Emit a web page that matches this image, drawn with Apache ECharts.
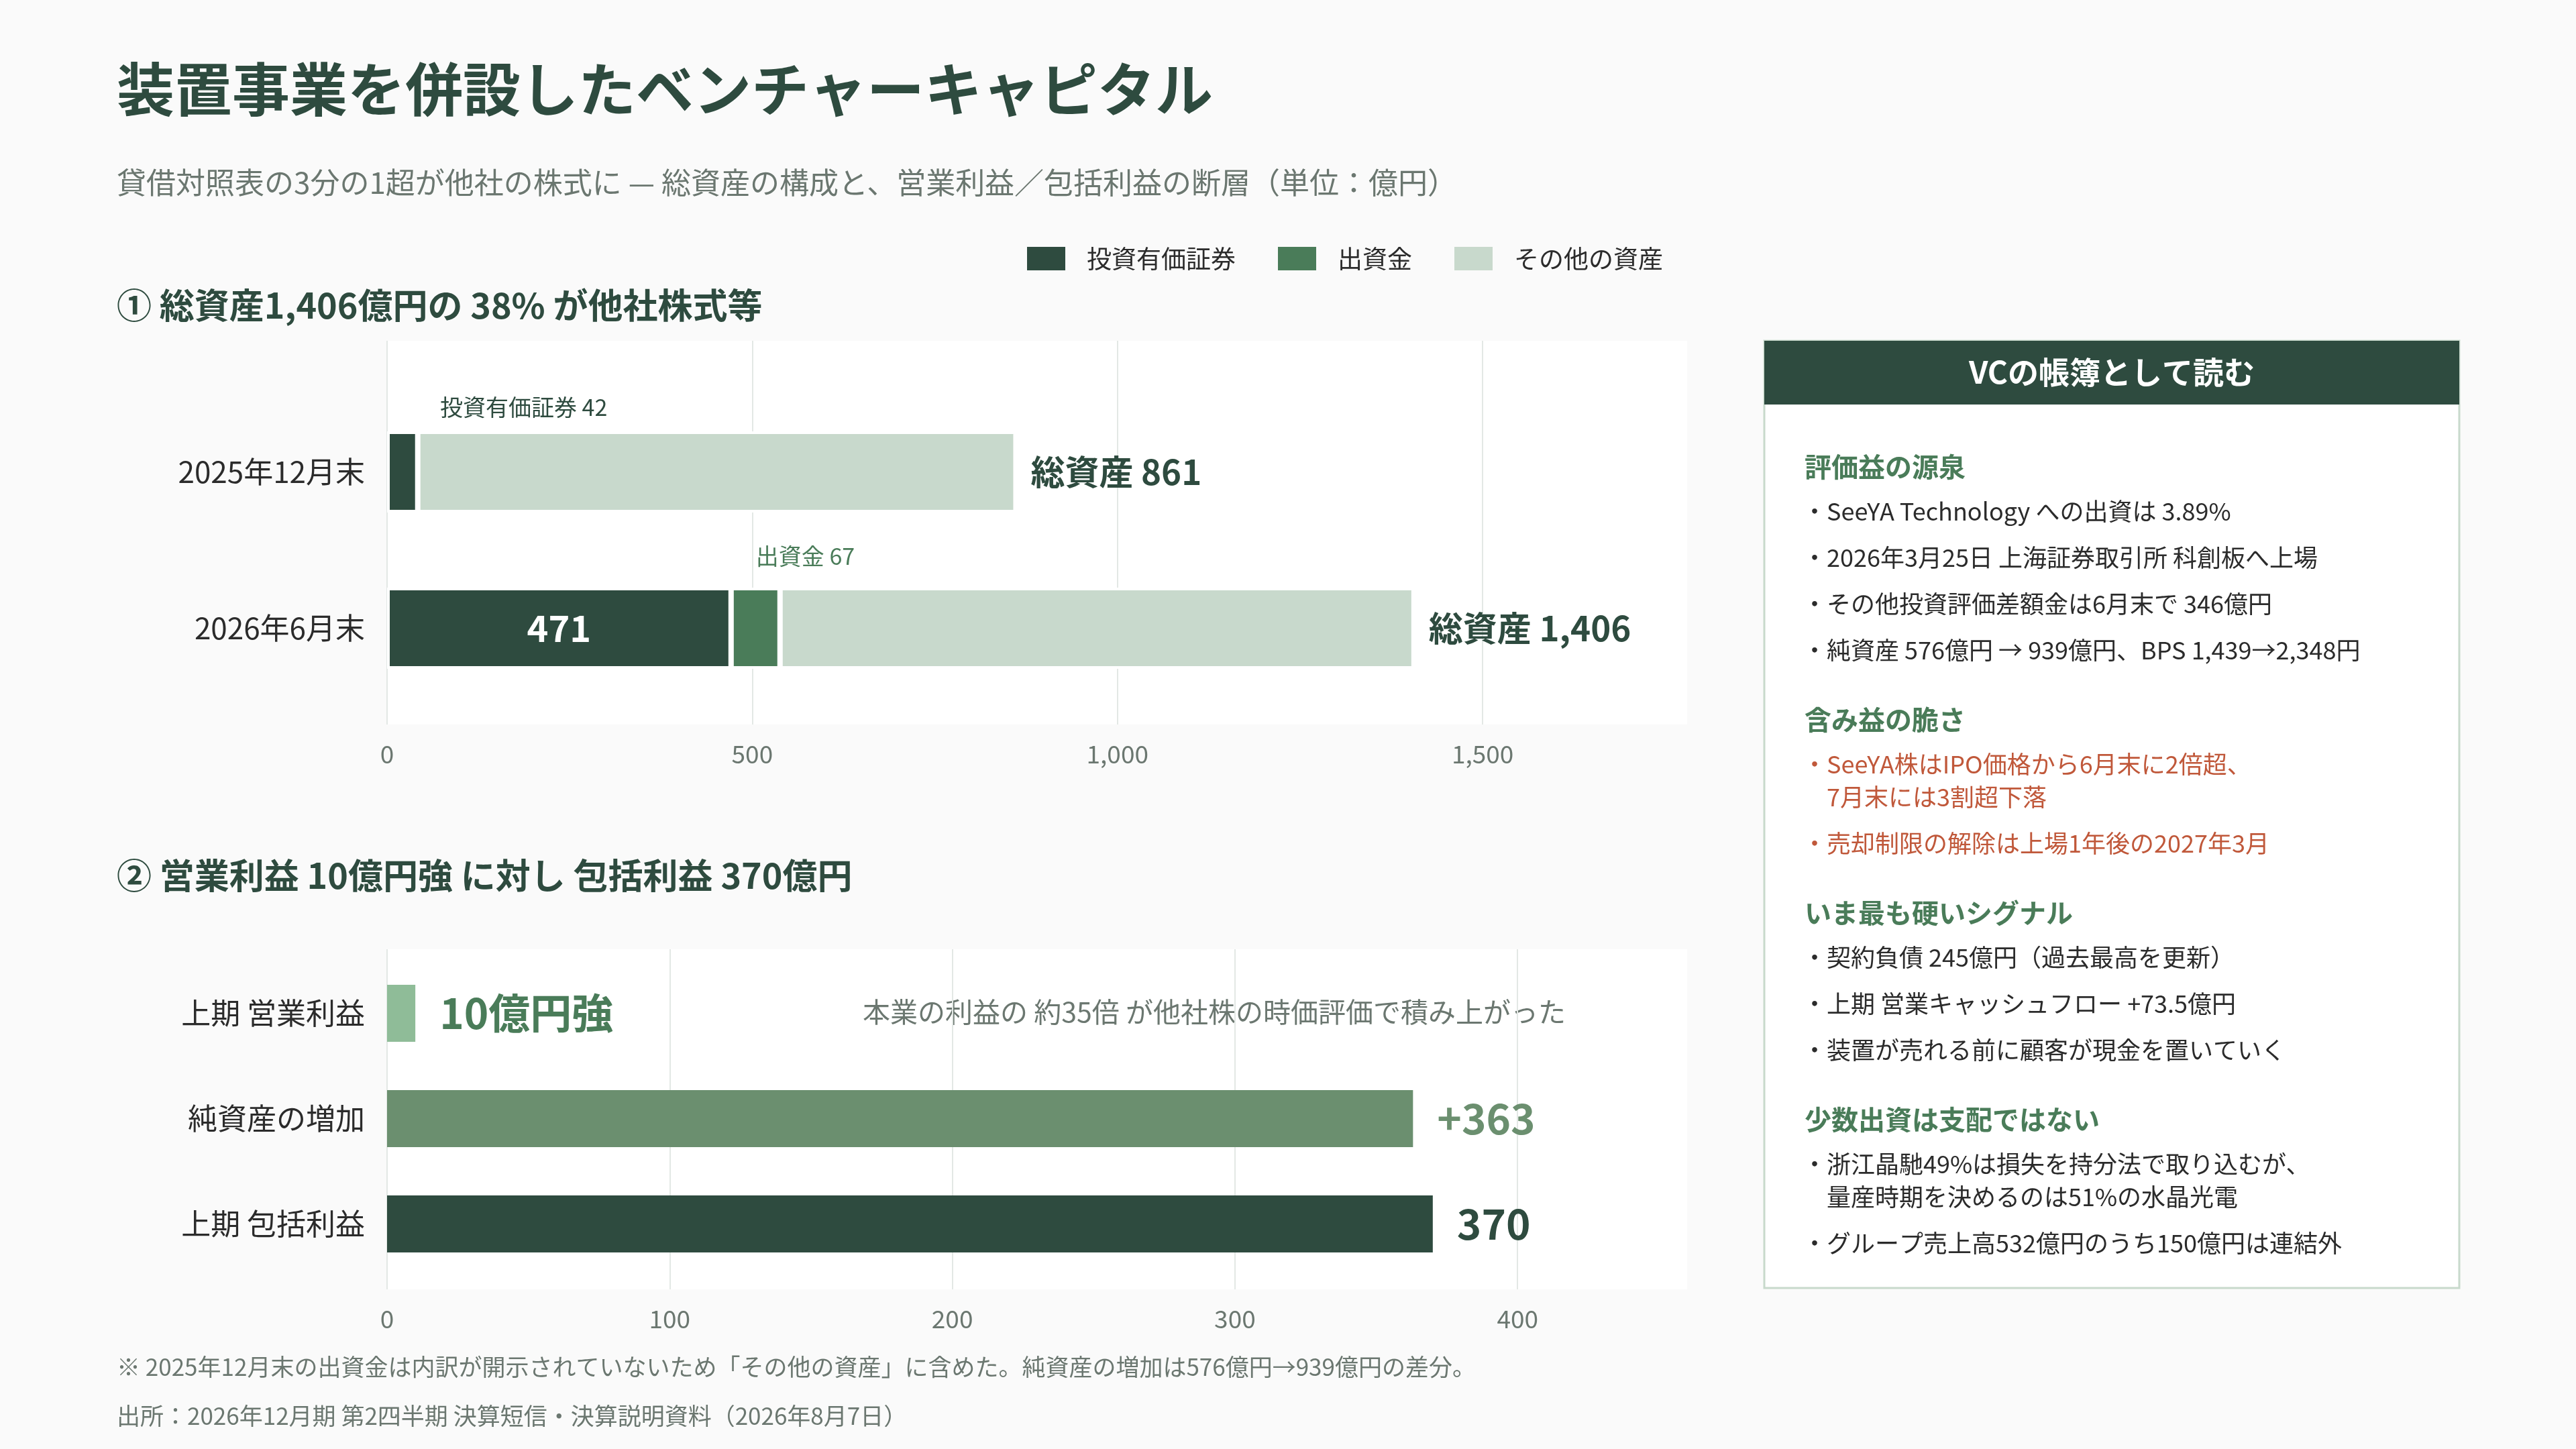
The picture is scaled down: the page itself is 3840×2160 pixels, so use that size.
<!DOCTYPE html>
<html>
<head>
<meta charset="utf-8">
<script src="https://cdn.jsdelivr.net/npm/echarts@6/dist/echarts.min.js"></script>
<style>
  html, body { margin: 0; background: #fafafa; }
  #chart { width: 3840px; height: 2160px; }
</style>
</head>
<body>
<div id="chart"></div>
<script>
// ① 総資産の構成（億円）
const assetDates = ['2025年12月末', '2026年6月末'];
const investSecurities = [42, 471];
const capitalContrib = [0, 67];
const otherAssets = [819, 868];
const totalAssets = [861, 1406];
const assetTicks = [0, 500, 1000, 1500];

// ② 営業利益と包括利益（億円）
const profitCats = ['上期 営業利益', '純資産の増加', '上期 包括利益'];
const profitValues = [10, 363, 370];
const profitLabels = ['10億円強', '+363', '370'];
const profitTicks = [0, 100, 200, 300, 400];

// 右パネル
const panelSections = [
  { head: '評価益の源泉', red: false, items: [
    ['SeeYA Technology への出資は 3.89%'],
    ['2026年3月25日 上海証券取引所 科創板へ上場'],
    ['その他投資評価差額金は6月末で 346億円'],
    ['純資産 576億円 → 939億円、BPS 1,439→2,348円']
  ] },
  { head: '含み益の脆さ', red: true, items: [
    ['SeeYA株はIPO価格から6月末に2倍超、', '7月末には3割超下落'],
    ['売却制限の解除は上場1年後の2027年3月']
  ] },
  { head: 'いま最も硬いシグナル', red: false, items: [
    ['契約負債 245億円（過去最高を更新）'],
    ['上期 営業キャッシュフロー +73.5億円'],
    ['装置が売れる前に顧客が現金を置いていく']
  ] },
  { head: '少数出資は支配ではない', red: false, items: [
    ['浙江晶馳49%は損失を持分法で取り込むが、', '量産時期を決めるのは51%の水晶光電'],
    ['グループ売上高532億円のうち150億円は連結外']
  ] }
];

const FONT = '"Noto Sans CJK JP", "Noto Sans", sans-serif';
const C = {
  dark: '#2e4b3f', mid: '#4a7c59', light: '#c8d9cc', sage: '#6b8f6f', mint: '#8fbc98',
  grid: '#e3e8e5', gray: '#6b7770', ink: '#2b2b2b', red: '#c0583a', line: '#c8d9cc'
};

function txt(x, y, text, size, fill, weight, align) {
  return {
    type: 'text', x: x, y: y, silent: true,
    style: {
      text: text, fontSize: size, fontWeight: weight || 'normal', fontFamily: FONT,
      fill: fill, align: align || 'left', verticalAlign: 'middle'
    }
  };
}

// 右パネルの組み立て
const panelLeft = 2630, panelTop = 508, panelW = 1036, panelH = 1412;
const graphics = [
  txt(174, 133, '装置事業を併設したベンチャーキャピタル', 86, C.dark, 'bold'),
  txt(174, 272, '貸借対照表の3分の1超が他社の株式に — 総資産の構成と、営業利益／包括利益の断層（単位：億円）', 44, C.gray),
  txt(174, 455, '① 総資産1,406億円の 38% が他社株式等', 52, C.dark, 'bold'),
  txt(174, 1305, '② 営業利益 10億円強 に対し 包括利益 370億円', 52, C.dark, 'bold'),
  txt(1286, 1508, '本業の利益の 約35倍 が他社株の時価評価で積み上がった', 41, C.gray),
  txt(174, 2038, '※ 2025年12月末の出資金は内訳が開示されていないため「その他の資産」に含めた。純資産の増加は576億円→939億円の差分。', 35, C.gray),
  txt(174, 2111, '出所：2026年12月期 第2四半期 決算短信・決算説明資料（2026年8月7日）', 35, C.gray),
  {
    type: 'rect', silent: true,
    shape: { x: panelLeft, y: panelTop, width: panelW, height: panelH },
    style: { fill: '#ffffff', stroke: C.line, lineWidth: 3 }
  },
  {
    type: 'rect', silent: true,
    shape: { x: panelLeft, y: panelTop, width: panelW, height: 95 },
    style: { fill: C.dark }
  },
  txt(panelLeft + panelW / 2, panelTop + 47, 'VCの帳簿として読む', 46, '#ffffff', 'bold', 'center')
];

let py = 696;
panelSections.forEach(sec => {
  graphics.push(txt(2690, py, sec.head, 40, C.mid, 'bold'));
  py += 66;
  sec.items.forEach(lines => {
    lines.forEach((line, j) => {
      if (j > 0) py += 49;
      graphics.push(txt(j === 0 ? 2687 : 2723, py, (j === 0 ? '・' : '') + line, 36, sec.red ? C.red : C.ink));
    });
    py += 69;
  });
  py += 35;
});

const fmt = v => v.toLocaleString('en-US');

const chart = echarts.init(document.getElementById('chart'));
chart.setOption({
  backgroundColor: '#fafafa',
  animation: false,
  textStyle: { fontFamily: FONT },
  legend: {
    data: ['投資有価証券', '出資金', 'その他の資産'],
    left: 1526, top: 362,
    icon: 'rect', itemWidth: 57, itemHeight: 35, itemGap: 63,
    itemStyle: { borderWidth: 0 },
    textStyle: { fontSize: 37, color: C.ink, fontFamily: FONT, padding: [0, 0, 0, 27] }
  },
  grid: [
    { left: 577, top: 508, width: 1938, height: 572, show: true, backgroundColor: '#ffffff', borderWidth: 0 },
    { left: 577, top: 587, width: 1938, height: 466 },
    { left: 577, top: 1415, width: 1938, height: 507, show: true, backgroundColor: '#ffffff', borderWidth: 0 },
    { left: 577, top: 1432, width: 1938, height: 471 }
  ],
  xAxis: [
    {
      gridIndex: 0, type: 'value', min: 0, max: 1780,
      axisLine: { show: false },
      axisTick: { show: false, customValues: assetTicks },
      axisLabel: { customValues: assetTicks, formatter: fmt, fontSize: 37, color: C.gray, margin: 25 },
      splitLine: { lineStyle: { color: C.grid, width: 2 } }
    },
    { gridIndex: 1, type: 'value', min: 0, max: 1780, show: false },
    {
      gridIndex: 2, type: 'value', min: 0, max: 460,
      axisLine: { show: false },
      axisTick: { show: false, customValues: profitTicks },
      axisLabel: { customValues: profitTicks, fontSize: 37, color: C.gray, margin: 25 },
      splitLine: { lineStyle: { color: C.grid, width: 2 } }
    },
    { gridIndex: 3, type: 'value', min: 0, max: 460, show: false }
  ],
  yAxis: [
    { gridIndex: 0, type: 'category', data: [''], show: false },
    {
      gridIndex: 1, type: 'category', data: assetDates, inverse: true,
      axisLine: { show: false }, axisTick: { show: false },
      axisLabel: { fontSize: 44, color: C.ink, margin: 33 }
    },
    { gridIndex: 2, type: 'category', data: [''], show: false },
    {
      gridIndex: 3, type: 'category', data: profitCats, inverse: true,
      axisLine: { show: false }, axisTick: { show: false },
      axisLabel: { fontSize: 44, color: C.ink, margin: 33 }
    }
  ],
  series: [
    {
      name: '投資有価証券', type: 'bar', xAxisIndex: 1, yAxisIndex: 1, stack: 'assets',
      barWidth: 121, itemStyle: { color: C.dark, borderColor: '#ffffff', borderWidth: 4 },
      data: investSecurities.map((v, i) => ({
        value: v,
        label: i === 0
          ? { show: true, position: [79, -36], align: 'left', verticalAlign: 'middle',
              formatter: '投資有価証券 ' + v, color: C.dark, fontSize: 34 }
          : { show: true, position: 'inside', formatter: String(v),
              color: '#ffffff', fontSize: 54, fontWeight: 'bold' }
      }))
    },
    {
      name: '出資金', type: 'bar', xAxisIndex: 1, yAxisIndex: 1, stack: 'assets',
      barWidth: 121, itemStyle: { color: C.mid, borderColor: '#ffffff', borderWidth: 4 },
      data: capitalContrib.map(v => ({
        value: v,
        label: v > 0
          ? { show: true, position: [37, -47], align: 'left', verticalAlign: 'middle',
              formatter: '出資金 ' + v, color: C.mid, fontSize: 34 }
          : { show: false }
      }))
    },
    {
      name: 'その他の資産', type: 'bar', xAxisIndex: 1, yAxisIndex: 1, stack: 'assets',
      barWidth: 121, itemStyle: { color: C.light, borderColor: '#ffffff', borderWidth: 4 },
      label: {
        show: true, position: 'right', distance: 22,
        formatter: p => '総資産 ' + fmt(totalAssets[p.dataIndex]),
        fontSize: 51, fontWeight: 'bold', color: C.dark
      },
      data: otherAssets
    },
    {
      name: '利益', type: 'bar', xAxisIndex: 3, yAxisIndex: 3,
      barWidth: 85,
      label: {
        show: true, position: 'right', distance: 36,
        formatter: p => profitLabels[p.dataIndex],
        fontSize: 62, fontWeight: 'bold'
      },
      data: profitValues.map((v, i) => ({
        value: v,
        itemStyle: { color: [C.mint, C.sage, C.dark][i] },
        label: { color: [C.mid, C.sage, C.dark][i] }
      }))
    }
  ],
  graphic: graphics
});
</script>
</body>
</html>
